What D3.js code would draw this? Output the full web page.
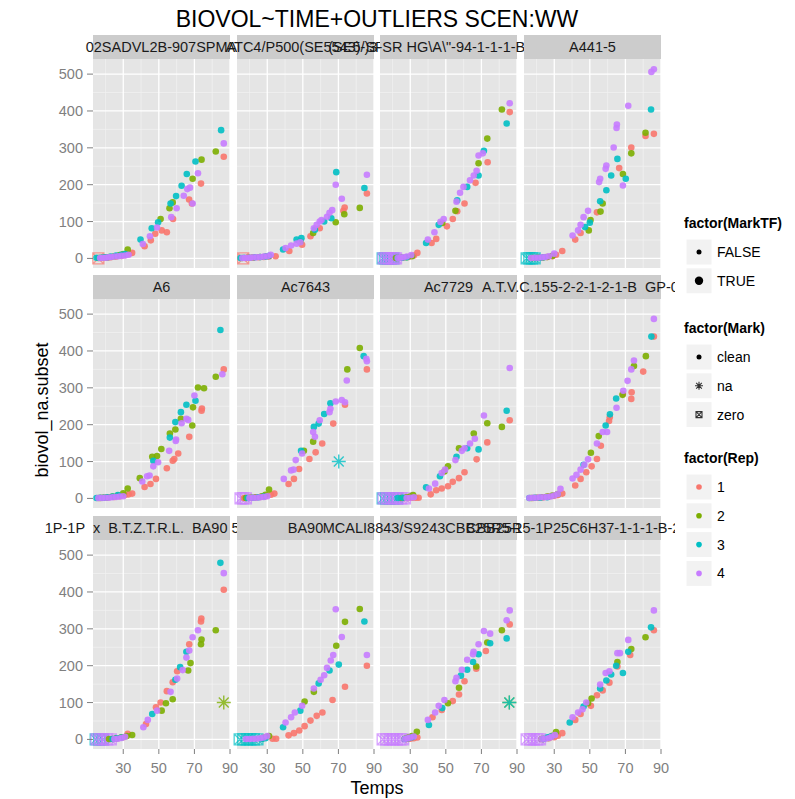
<!DOCTYPE html>
<html>
<head>
<meta charset="utf-8">
<script src="https://cdn.jsdelivr.net/npm/d3@7"></script>
<style>
body { margin: 0; background: #fff; }
svg { display: block; font-family: "Liberation Sans", Arial, sans-serif; }
</style>
</head>
<body>
<div id="chart"></div>
<script>
// facet labels, in facet order (they overflow their strips, as in the original)
var stripLabels = ["02SADVL2B-907SPMA", "ATC4/P500(SE5543)-SR", "(SE5/)3-SR HG\\A\\\"-94-1-1-1-B-B-B-B", "A441-5",
                   "A6", "Ac7643", "Ac7729", "A.T.V.C.155-2-2-1-2-1-B  GP-0001",
                   "1P-1P  x  B.T.Z.T.R.L.  BA90 5-1-1-1", "BA90", "MCALI8843/S9243CBB25R5-1-1-1-1-1", "CBB25R5-1P25C6H37-1-1-1-B-2-1-0-0"];

var repLevels = ["1", "2", "3", "4"];
var repColors = ["#F8766D", "#7CAE00", "#00BFC4", "#C77CFF"];
var xTicks = [30, 50, 70, 90];
var xMinor = [20, 40, 60, 80];
var yTicks = [0, 100, 200, 300, 400, 500];
var yMinor = [50, 150, 250, 350, 450];

// [Temps, biovol] per rep (1..4), "clean" points
var p01 = [
  [[17,1],[19,2],[21,2],[23,3],[26,5],[29,7],[31,9],[33,12],[35,15],[42,33],[45.5,49],[48,67],[51.6,76],[54.5,71],[58,107],[67,160],[68.6,149],[73.7,203],[86.5,276]],
  [[16,1],[18,2],[20,3],[22,4],[25,6],[28,9],[30,12],[32.5,24],[51,107],[56,136],[57.8,152],[69,216],[74,268],[82,290]],
  [[15,2],[17,2],[19,3],[21,3],[23,5],[26,8],[29,10],[31,12],[39.7,51],[46,82],[49.6,98],[56.6,149],[59.7,169],[62.8,197],[65.7,229],[70.6,263],[85,348]],
  [[17,1],[18.5,2],[20,2],[21.5,3],[23,4],[25,5],[27,6],[29,7],[31,8],[33,10],[41,39],[45,60],[49,84],[57,112],[60,136],[64,170],[66,188],[67.5,192],[69,149],[72,231],[86.5,312]]
];
var p02 = [
  [[18,1],[20,2],[22,2],[25,3],[28,4],[31,5],[34.7,6],[42.4,20],[49.6,37],[54.3,60],[59.5,82],[72.8,129],[73.5,138],[86,176]],
  [[16,1],[19,2],[22,3],[26,4],[30,6],[48.6,46],[55.8,69],[68.5,98],[73.3,120],[82,137]],
  [[15,1],[17,2],[20,2],[23,3],[26,4],[29,5],[31,7],[38.9,24],[46.5,51],[49.2,55],[56.8,78],[62,100],[66,109],[68.8,234],[84.6,191]],
  [[16,1],[17.5,1],[19,2],[20.5,2],[22,3],[24,3],[26,4],[28,5],[30,6],[32,10],[40.3,28],[43.4,35],[46.5,40],[48.6,44],[56.2,82],[57.8,91],[59.5,100],[60.5,104],[63.6,113],[65,124],[66.5,131],[68.5,200],[71.9,162],[86,227]]
];
var p03 = [
  [[23,1],[26,2],[29,4],[32,8],[34,15],[42,42],[44.6,53],[50.6,87],[53.9,107],[56.4,128],[60.5,149],[66.7,205],[73.5,261],[85.9,397]],
  [[22,1],[25,2],[28,3],[31,6],[48,96],[55.4,129],[68.4,258],[73.3,325],[81.5,404]],
  [[23,1],[25.5,2],[28,3],[38.9,42],[46,91],[56.4,158],[62,194],[68.4,225],[71.4,292],[84.2,366]],
  [[23,1],[24.5,2],[26,3],[28,5],[30.6,9],[39.9,51],[43.6,71],[47,99],[48.8,107],[56,154],[58,178],[59.9,194],[63.6,212],[65.7,225],[67.3,238],[68.4,279],[70.8,285],[85.9,421]]
];
var p04 = [
  [[20,1],[23,2],[26,4],[29,6],[31,10],[34.5,20],[41.8,51],[44.8,69],[54,125],[66.5,245],[73.3,301],[81.3,332],[86,338]],
  [[18,1],[21,2],[24,3],[26,4],[29,7],[49.4,76],[50.4,104],[56,127],[57.2,149],[68.6,229],[73.3,285],[81.3,341]],
  [[20,1],[22,2],[24,3],[47.3,85],[50,97],[55.8,155],[59.3,185],[62,225],[65.5,270],[70.2,216],[84.4,404]],
  [[17,1],[19,2],[21,2],[23,3],[25,4],[27,6],[30,13],[40.3,62],[43.4,76],[44.8,91],[46.5,112],[49,129],[55.2,207],[55.8,216],[58.9,243],[59.3,252],[63.4,301],[65,354],[65.2,363],[68.6,198],[71.6,414],[84.6,506],[86,513]]
];
var p05 = [
  [[16,1],[18,2],[20,2],[22,3],[25,4],[28,6],[31,9],[33,11],[35,13],[42,31],[45.3,39],[48.4,53],[54.5,82],[57.8,102],[58.7,107],[60.9,122],[67.1,167],[74,238],[74.2,244],[86.5,350]],
  [[17,1],[19,2],[21,3],[24,5],[27,8],[30,14],[32.5,27],[39.3,55],[46.3,113],[49,115],[51.4,134],[56.2,176],[59.3,187],[62.4,216],[68.8,198],[69.2,247],[72,301],[75.4,299],[82,330]],
  [[15,1],[17,2],[19,2],[21,3],[24,5],[27,9],[46.9,102],[56.2,165],[59.3,207],[62.4,234],[65.5,254],[70.6,265],[84.6,457]],
  [[16,1],[18,1],[20,2],[22,2],[24,3],[26,4],[28,5],[30,6],[40.7,46],[43.4,60],[44.8,62],[46.9,87],[49.6,98],[55.8,129],[59.5,156],[59.7,160],[62.8,204],[65.5,216],[66.5,213],[70,279],[85.7,337]]
];
var p06 = [
  [[17,1],[20,2],[23,3],[26,4],[29,6],[32,10],[34,13],[42,39],[45,53],[47.9,80],[53.7,107],[57.2,125],[60.9,149],[67.1,203],[73.7,254],[86,350]],
  [[18,1],[21,2],[24,3],[27,6],[29,10],[31,24],[50.6,129],[55.8,154],[75,350],[82,408]],
  [[19,1],[22,2],[25,3],[28,5],[49,129],[56.2,194],[58.9,203],[62,229],[65.5,258],[84.2,386]],
  [[20,1],[22,2],[24,2],[26,3],[28,4],[30,6],[39.3,53],[43.4,76],[44.8,78],[46,104],[49.6,122],[55.8,180],[56.8,167],[59.5,212],[65,234],[65.5,243],[68.5,263],[71.9,267],[73.7,261],[74.7,320],[85.7,379],[86,372]]
];
var p07 = [
  [[27,1],[29,1],[31,2],[33,2],[34.7,2],[41.5,11],[44.6,22],[47.7,27],[51.2,33],[53.9,45],[57.4,55],[60.5,71],[67.3,106],[73.3,152],[85.9,212]],
  [[25,1],[28,3],[30,5],[31.6,9],[49.2,73],[51.2,87],[57.4,136],[65.7,176],[73.3,204],[81.5,194]],
  [[23,1],[26,2],[38.9,30],[46.7,60],[56,113],[62,136],[68.4,133],[84.2,238]],
  [[28,1],[30,2],[32,3],[40.5,27],[44,40],[47.7,69],[49.6,78],[55.4,104],[59,129],[60.5,136],[63.6,149],[66.3,162],[71.4,225],[85.9,354]]
];
var p08 = [
  [[18,1],[21,2],[24,3],[27,5],[30,7],[32,9],[34.5,13],[41.8,35],[44.8,53],[48,71],[51,87],[54,107],[56.2,143],[60.8,210],[61.2,220],[68.6,283],[73.3,270],[73.5,288],[80,344],[86,439]],
  [[17,1],[20,2],[23,3],[26,5],[29,8],[32,12],[50.6,124],[55,169],[68.4,281],[74.8,359],[81.5,386]],
  [[16,1],[19,2],[22,2],[26,3],[46.5,91],[58.9,198],[61.3,228],[64.8,271],[84.6,439]],
  [[16,1],[18,2],[20,2],[22,3],[24,3],[26,4],[28,5],[30,8],[32,12],[33.5,26],[40.3,54],[42.5,64],[44.8,78],[46.9,91],[49,106],[54,149],[57.2,180],[59.7,180],[65,246],[68.8,292],[71.2,319],[73.3,350],[74.8,374],[86,487]]
];
var p09 = [
  [[24,1],[27,3],[30,6],[32.5,15],[42.8,42],[48.4,87],[51,100],[54.5,131],[57.8,155],[60.3,185],[67.1,258],[73.7,320],[73.9,328],[86.5,406]],
  [[22,1],[26,3],[29,6],[32,9],[35,12],[51.6,78],[54,98],[57.8,109],[66.5,187],[67.8,207],[73.7,258],[74,271],[82,296]],
  [[24,1],[26.3,3],[29,5],[46.3,69],[59.3,162],[62,196],[65.5,238],[84.6,479]],
  [[25,1],[27,2],[29,4],[31,7],[41.3,33],[43.8,53],[49,78],[56.6,129],[60.3,165],[63.4,188],[65.5,222],[67.1,241],[69,277],[72,296],[86.5,451]]
];
var p10 = [
  [[33,2],[35,2],[42,11],[45,17],[48,24],[51,36],[54.3,51],[57.8,64],[61,73],[66.7,107],[73.7,143],[86,200]],
  [[27,2],[29,6],[31,9],[51,103],[56.2,129],[68.8,254],[73.7,319],[82,354]],
  [[27,1],[29,3],[38.9,33],[48.6,78],[58.9,152],[65,187],[70.2,203],[84.6,320]],
  [[18,1],[20,1],[22,2],[24,2],[26,3],[28,5],[30,9],[40.3,46],[43.4,60],[45.5,73],[49.6,91],[56.2,138],[60,162],[62,174],[63.6,194],[65.7,214],[67.1,229],[68.5,353],[71.9,278],[86,229]]
];
var p11 = [
  [[28,1],[30,2],[32,3],[34,5],[42.5,60],[47.7,80],[53.9,104],[57.4,122],[60.5,158],[67.1,192],[72.5,240],[85.9,312]],
  [[27,2],[29,5],[31,9],[33.7,21],[51.2,98],[57.4,140],[67.1,198],[73.3,263],[81.5,296]],
  [[27,1],[29,3],[31,6],[40.5,39],[48,85],[58.5,173],[62,189],[65.3,210],[68.4,231],[74.9,261],[84.2,274]],
  [[27,1],[28.5,3],[30,5],[32,8],[39.9,53],[44,73],[46,91],[49.2,107],[55.4,158],[56,167],[59,189],[62,216],[65.3,231],[65.6,238],[68.4,258],[71.4,294],[74.9,287],[84.2,323],[85.9,350]]
];
var p12 = [
  [[24,1],[27,3],[30,6],[32,10],[34.5,17],[41.8,53],[44.8,69],[50.6,91],[54,120],[57.2,133],[61,154],[65.5,198],[72.7,229],[86,296]],
  [[23,1],[26.5,4],[29,10],[31,20],[49,98],[51,111],[65.5,210],[73.3,245],[81.3,277]],
  [[24,1],[26.3,6],[28,8],[38.7,46],[46.5,89],[55.8,138],[59.3,160],[62,176],[64.8,200],[68.6,180],[71.6,238],[84.4,304]],
  [[23,1],[25,2],[27,4],[28.5,7],[30.4,12],[40.3,60],[43.4,73],[45.9,82],[48,100],[55.8,149],[58.9,180],[61,185],[65.5,234],[66.9,234],[71.6,270],[86,350]]
];
var panelData = [p01, p02, p03, p04, p05, p06, p07, p08, p09, p10, p11, p12];

// outliers: [panel index, rep, Temps] for Mark == "zero" (biovol 0)
var zeroMarks = [
  [0,1,16], [1,1,16.5],
  [2,3,14.5],[2,3,16],[2,3,17.5],[2,3,19],[2,3,20.5],[2,4,15],[2,4,16.5],[2,4,18],[2,4,19.5],[2,4,21],[2,4,22],
  [3,3,14.5],[3,3,16],[3,3,17.5],[3,3,19],
  [5,4,15],[5,4,16.5],[5,4,18],
  [6,3,14.5],[6,3,16.5],[6,3,18.5],[6,3,20.5],[6,3,22.5],[6,4,15],[6,4,17],[6,4,19],[6,4,21],[6,4,23],[6,4,25],[6,4,27],
  [8,3,14.5],[8,3,16.5],[8,3,18.5],[8,4,15],[8,4,17],[8,4,19],[8,4,21],[8,4,23],
  [9,3,14.5],[9,3,16.5],[9,3,18.5],[9,3,20.5],[9,3,22.5],[9,3,24.5],
  [10,4,14.5],[10,4,16.5],[10,4,18.5],[10,4,20.5],[10,4,22.5],[10,4,24.5],[10,4,26],
  [11,4,14.5],[11,4,16.5],[11,4,18.5],[11,4,20.5],[11,4,22]
];
// Mark == "na": [panel index, rep, Temps, biovol]
var naMarks = [[5,3,70.2,100], [8,2,86.5,100], [10,2,85.7,100], [10,3,85.7,100]];

var width = 795, height = 799;
var colX = [93, 237, 380, 524], rowY = [59, 299, 540];
var panelW = 137, panelH = 209, stripH = 24;

var svg = d3.select("#chart").append("svg")
    .attr("width", width)
    .attr("height", height);

var x = d3.scaleLinear().domain([13, 90]).range([0, panelW]);
var y = d3.scaleLinear().domain([-26, 541]).range([panelH, 0]);

function asterisk(s) {
    var d = s * 0.7071;
    return "M" + (-s) + ",0L" + s + ",0M0," + (-s) + "L0," + s +
        "M" + (-d) + "," + (-d) + "L" + d + "," + d + "M" + (-d) + "," + d + "L" + d + "," + (-d);
}
function boxCross(s) {
    return "M" + (-s) + "," + (-s) + "h" + (2 * s) + "v" + (2 * s) + "h" + (-2 * s) + "Z" +
        "M" + (-s) + "," + (-s) + "L" + s + "," + s + "M" + (-s) + "," + s + "L" + s + "," + (-s);
}

// panels
panelData.forEach(function(reps, i) {
    var col = i % 4, row = Math.floor(i / 4);
    var g = svg.append("g")
        .attr("transform", "translate(" + colX[col] + "," + rowY[row] + ")");

    g.append("rect").attr("width", panelW).attr("height", panelH).attr("fill", "#E5E5E5");

    g.selectAll(".xmin").data(xMinor).enter().append("line")
        .attr("x1", x).attr("x2", x).attr("y1", 0).attr("y2", panelH)
        .attr("stroke", "#F2F2F2").attr("stroke-width", 0.7);
    g.selectAll(".ymin").data(yMinor).enter().append("line")
        .attr("x1", 0).attr("x2", panelW).attr("y1", y).attr("y2", y)
        .attr("stroke", "#F2F2F2").attr("stroke-width", 0.7);
    g.selectAll(".xmaj").data(xTicks).enter().append("line")
        .attr("x1", x).attr("x2", x).attr("y1", 0).attr("y2", panelH)
        .attr("stroke", "#fff").attr("stroke-width", 1.3);
    g.selectAll(".ymaj").data(yTicks).enter().append("line")
        .attr("x1", 0).attr("x2", panelW).attr("y1", y).attr("y2", y)
        .attr("stroke", "#fff").attr("stroke-width", 1.3);

    // zero outliers (bigger, boxed cross)
    zeroMarks.filter(function(d) { return d[0] === i; }).forEach(function(d) {
        g.append("path")
            .attr("d", boxCross(5.5))
            .attr("transform", "translate(" + x(d[2]) + "," + y(0) + ")")
            .attr("fill", "none")
            .attr("stroke", repColors[d[1] - 1])
            .attr("stroke-width", 1.3)
            .attr("opacity", 0.7);
    });

    reps.forEach(function(pts, r) {
        g.selectAll(".pt" + r).data(pts).enter().append("circle")
            .attr("cx", function(d) { return x(d[0]); })
            .attr("cy", function(d) { return y(d[1]); })
            .attr("r", 3.3)
            .attr("fill", repColors[r])
            .attr("opacity", 0.9);
    });

    naMarks.filter(function(d) { return d[0] === i; }).forEach(function(d) {
        g.append("path")
            .attr("d", asterisk(7))
            .attr("transform", "translate(" + x(d[2]) + "," + y(d[3]) + ")")
            .attr("fill", "none")
            .attr("stroke", repColors[d[1] - 1])
            .attr("stroke-width", 1.4)
            .attr("opacity", 0.8);
    });

    // y axis on left column
    if (col === 0) {
        var ya = svg.append("g").attr("transform", "translate(" + colX[0] + "," + rowY[row] + ")");
        ya.selectAll("line").data(yTicks).enter().append("line")
            .attr("x1", -6).attr("x2", 0).attr("y1", y).attr("y2", y)
            .attr("stroke", "#7F7F7F").attr("stroke-width", 1);
        ya.selectAll("text").data(yTicks).enter().append("text")
            .attr("x", -10).attr("y", y).attr("dy", "0.35em")
            .attr("text-anchor", "end").attr("fill", "#7F7F7F")
            .style("font-size", "14.5px")
            .text(function(d) { return d; });
    }
    // x axis on bottom row
    if (row === 2) {
        var xa = svg.append("g").attr("transform", "translate(" + colX[col] + "," + (rowY[2] + panelH) + ")");
        xa.selectAll("line").data(xTicks).enter().append("line")
            .attr("x1", x).attr("x2", x).attr("y1", 0).attr("y2", 5)
            .attr("stroke", "#7F7F7F").attr("stroke-width", 1);
        xa.selectAll("text").data(xTicks).enter().append("text")
            .attr("x", x).attr("y", 24)
            .attr("text-anchor", "middle").attr("fill", "#7F7F7F")
            .style("font-size", "14.5px")
            .text(function(d) { return d; });
    }
});

// strips: each background then its label, so long labels spill over neighbours
stripLabels.forEach(function(lab, i) {
    var col = i % 4, row = Math.floor(i / 4);
    var sx = colX[col], sy = rowY[row] - stripH;
    svg.append("rect").attr("x", sx).attr("y", sy)
        .attr("width", panelW).attr("height", stripH).attr("fill", "#CCCCCC");
    svg.append("text")
        .attr("x", sx + panelW / 2).attr("y", sy + stripH / 2).attr("dy", "0.35em")
        .attr("text-anchor", "middle").attr("fill", "#1A1A1A")
        .style("font-size", "14.5px")
        .style("white-space", "pre")
        .text(lab);
});

// legend area hides overflowing strip text
svg.append("rect").attr("x", 675).attr("y", 30).attr("width", 120).attr("height", 730).attr("fill", "#fff");

// titles
svg.append("text").attr("x", 377).attr("y", 27).attr("text-anchor", "middle")
    .style("font-size", "23px").text("BIOVOL~TIME+OUTLIERS SCEN:WW");
svg.append("text").attr("x", 377).attr("y", 794).attr("text-anchor", "middle")
    .style("font-size", "18px").text("Temps");
svg.append("text").attr("transform", "translate(48,410) rotate(-90)").attr("text-anchor", "middle")
    .style("font-size", "18px").text("biovol_na.subset");

// legends
var legends = [
    { title: "factor(MarkTF)", y: 223, keys: ["FALSE", "TRUE"] },
    { title: "factor(Mark)", y: 328, keys: ["clean", "na", "zero"] },
    { title: "factor(Rep)", y: 458, keys: repLevels }
];
legends.forEach(function(lg, li) {
    var g = svg.append("g").attr("transform", "translate(684," + lg.y + ")");
    g.append("text").attr("x", 0).attr("y", 0).attr("dy", "0.35em")
        .style("font-size", "14px").style("font-weight", "bold").text(lg.title);
    lg.keys.forEach(function(k, ki) {
        var cy = 29 + ki * 28.8;
        g.append("rect").attr("x", 2).attr("y", cy - 13).attr("width", 26).attr("height", 26)
            .attr("fill", "#F2F2F2").attr("stroke", "#fff").attr("stroke-width", 1);
        var cx = 15;
        if (li === 0) {
            g.append("circle").attr("cx", cx).attr("cy", cy).attr("r", ki === 0 ? 2.5 : 4.2).attr("fill", "#000");
        } else if (li === 1) {
            if (k === "clean") {
                g.append("circle").attr("cx", cx).attr("cy", cy).attr("r", 2.5).attr("fill", "#000");
            } else if (k === "na") {
                g.append("path").attr("d", asterisk(4)).attr("transform", "translate(" + cx + "," + cy + ")")
                    .attr("stroke", "#333").attr("stroke-width", 1.1).attr("fill", "none");
            } else {
                g.append("path").attr("d", boxCross(3)).attr("transform", "translate(" + cx + "," + cy + ")")
                    .attr("stroke", "#333").attr("stroke-width", 1.1).attr("fill", "none");
            }
        } else {
            g.append("circle").attr("cx", cx).attr("cy", cy).attr("r", 2.8).attr("fill", repColors[ki]);
        }
        g.append("text").attr("x", 33).attr("y", cy).attr("dy", "0.35em")
            .style("font-size", "14px").text(k);
    });
});
</script>
</body>
</html>
